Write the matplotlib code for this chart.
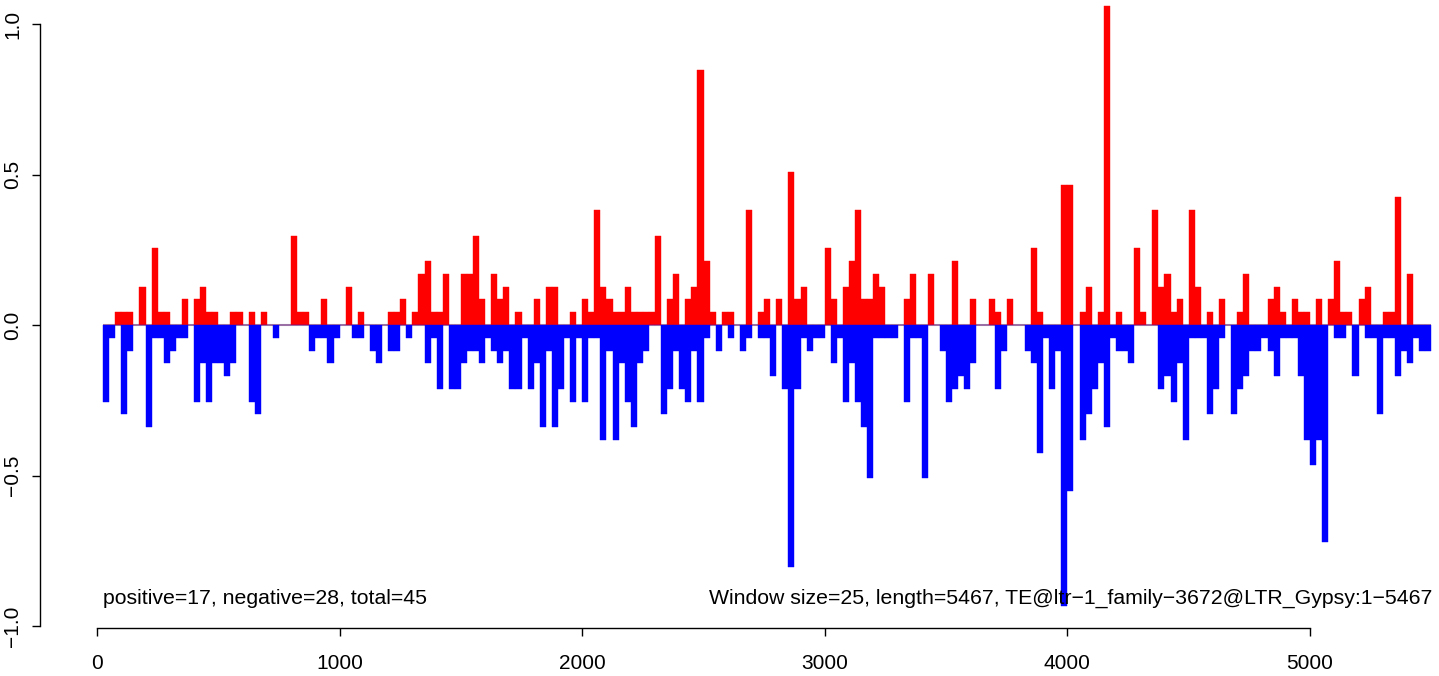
import numpy as np
import matplotlib
matplotlib.use("Agg")
import matplotlib.pyplot as plt

plt.rcParams['font.family'] = ['Liberation Sans', 'DejaVu Sans']

# window counts (one step = one count in the window)
window_size = 25
step = 0.04236

pos_counts = [
    0, 0, 1, 1, 1, 0, 3, 0, 6, 1, 1, 0, 0, 2, 0, 2, 3, 1, 1, 0,
    0, 1, 1, 0, 1, 0, 1, 0, 0, 0, 0, 7, 1, 1, 0, 0, 2, 0, 0, 0,
    3, 0, 1, 0, 0, 0, 0, 1, 1, 2, 0, 1, 4, 5, 1, 1, 4, 0, 0, 4,
    4, 7, 2, 0, 4, 2, 3, 0, 1, 0, 0, 2, 0, 3, 3, 0, 0, 1, 0, 2,
    1, 9, 3, 2, 1, 1, 3, 1, 1, 1, 1, 7, 0, 2, 4, 0, 2, 3, 20, 5,
    1, 0, 1, 1, 0, 0, 9, 0, 1, 2, 0, 2, 0, 12, 2, 3, 0, 0, 0, 6,
    2, 0, 3, 5, 9, 2, 2, 4, 3, 0, 0, 0, 2, 4, 0, 0, 4, 0, 0, 0,
    5, 0, 0, 2, 0, 0, 2, 1, 0, 2, 0, 0, 0, 6, 1, 0, 0, 0, 11, 11,
    0, 1, 3, 0, 1, 25, 0, 1, 0, 0, 6, 1, 0, 9, 3, 4, 1, 2, 0, 9,
    3, 0, 1, 0, 2, 0, 0, 1, 4, 0, 0, 0, 2, 3, 1, 0, 2, 1, 1, 0,
    2, 0, 2, 5, 1, 1, 0, 2, 3, 0, 0, 1, 1, 10, 0, 4, 0, 0, 0,
]

neg_counts = [
    6, 1, 0, 7, 2, 0, 0, 8, 1, 1, 3, 2, 1, 1, 0, 6, 3, 6, 3, 3,
    4, 3, 0, 0, 6, 7, 0, 0, 1, 0, 0, 0, 0, 0, 2, 1, 1, 3, 1, 0,
    0, 1, 1, 0, 2, 3, 0, 2, 2, 0, 1, 0, 0, 3, 1, 5, 0, 5, 5, 3,
    2, 2, 3, 1, 2, 3, 2, 5, 5, 1, 5, 3, 8, 2, 8, 5, 1, 6, 1, 6,
    1, 1, 9, 2, 9, 3, 6, 8, 3, 2, 0, 0, 7, 5, 2, 5, 6, 2, 6, 1,
    0, 2, 0, 1, 0, 2, 1, 0, 1, 1, 4, 0, 5, 19, 5, 1, 2, 1, 1, 0,
    3, 1, 6, 3, 6, 8, 12, 1, 1, 1, 1, 0, 6, 1, 1, 12, 0, 0, 2, 6,
    5, 4, 5, 3, 0, 0, 0, 5, 2, 0, 0, 0, 2, 3, 10, 1, 5, 2, 22, 13,
    0, 9, 7, 5, 3, 8, 1, 2, 2, 3, 0, 0, 0, 0, 5, 4, 6, 3, 9, 1,
    1, 1, 7, 5, 1, 0, 7, 5, 4, 2, 2, 1, 2, 4, 1, 1, 1, 4, 9, 11,
    9, 17, 0, 1, 1, 0, 4, 0, 1, 1, 7, 1, 1, 4, 2, 3, 1, 2, 2,
]

y_ticks = [-1.0, -0.5, 0.0, 0.5, 1.0]
y_labels = ["\u22121.0", "\u22120.5", "0.0", "0.5", "1.0"]
x_ticks = [0, 1000, 2000, 3000, 4000, 5000]

left_text = "positive=17, negative=28, total=45"
right_text = "Window size=25, length=5467, TE@ltr\u22121_family\u22123672@LTR_Gypsy:1\u22125467"

pos = np.array(pos_counts) * step
neg = -np.array(neg_counts) * step
starts = window_size * (np.arange(len(pos)) + 1)

W, H = 1439, 676
fig = plt.figure(figsize=(W / 100, H / 100), dpi=100)
ax = fig.add_axes([40 / W, (H - 628) / H, (W - 40) / W, 628 / H])

ax.hlines(0, starts[0], starts[-1] + window_size, color="#b4b4b4", lw=1.5, zorder=1)
ax.bar(starts, pos, width=window_size, align="edge", color="#ff0000",
       edgecolor="#ff0000", linewidth=0.3, zorder=2)
ax.bar(starts, neg, width=window_size, align="edge", color="#0000ff",
       edgecolor="#0000ff", linewidth=0.3, zorder=2)

ax.set_xlim((40 - 97) / 0.2426, (W - 97) / 0.2426)
ax.set_ylim((325 - 628) / 301, 325 / 301)

for s in ["top", "right"]:
    ax.spines[s].set_visible(False)
ax.spines["left"].set_bounds(-1, 1)
ax.spines["bottom"].set_bounds(0, 5000)
ax.spines["left"].set_linewidth(1.0)
ax.spines["bottom"].set_linewidth(1.0)

ax.set_yticks(y_ticks)
ax.set_yticklabels(y_labels, rotation=90, va="center")
ax.set_xticks(x_ticks)
ax.set_xticklabels([str(t) for t in x_ticks])
ax.tick_params(axis="both", length=6, width=1.0, labelsize=15)
ax.tick_params(axis="y", pad=7)
ax.tick_params(axis="x", pad=13)

ax.text(25, -0.907, left_text, ha="left", va="center", fontsize=15.3, zorder=3)
ax.text(5505, -0.907, right_text, ha="right", va="center", fontsize=15.3, zorder=3)

fig.savefig("out.png", dpi=100)
